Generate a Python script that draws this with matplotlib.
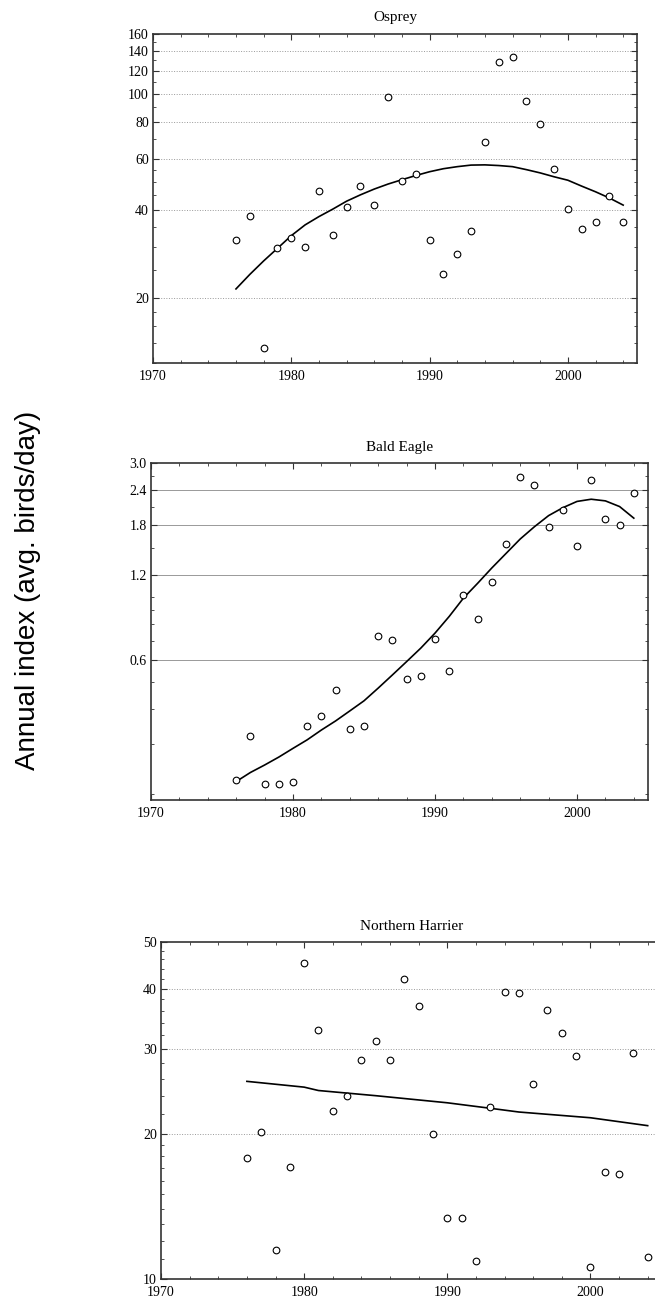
import numpy as np
import matplotlib
matplotlib.use("Agg")
import matplotlib.pyplot as plt
from matplotlib.ticker import FixedLocator, NullFormatter, MultipleLocator

# ---- data ----
years = list(range(1976, 2005))

osprey = [31.6, 38.2, 13.5, 29.7, 32.2, 29.8, 46.5, 32.9, 40.9, 48.5,
          41.6, 97.7, 50.4, 53.1, 31.6, 24.2, 28.3, 34.0, 68.5, 128.7,
          133.0, 94.6, 78.5, 55.1, 40.2, 34.4, 36.5, 44.7, 36.5]
osprey_fit = [21.5, 24.1, 26.8, 29.6, 32.7, 35.6, 38.0, 40.3, 42.9, 45.1,
              47.2, 49.1, 50.8, 52.5, 54.1, 55.4, 56.3, 57.0, 57.1, 56.8,
              56.3, 55.0, 53.6, 52.0, 50.6, 48.3, 46.2, 44.0, 41.6]

eagle = [0.224, 0.321, 0.216, 0.216, 0.220, 0.348, 0.377, 0.467, 0.339, 0.348,
         0.727, 0.707, 0.512, 0.525, 0.711, 0.545, 1.02, 0.833, 1.13, 1.55,
         2.68, 2.50, 1.77, 2.05, 1.52, 2.62, 1.89, 1.80, 2.35]
eagle_fit = [0.221, 0.238, 0.253, 0.270, 0.290, 0.311, 0.337, 0.363, 0.394, 0.428,
             0.475, 0.529, 0.590, 0.659, 0.745, 0.854, 0.992, 1.12, 1.27, 1.43,
             1.61, 1.78, 1.95, 2.08, 2.19, 2.23, 2.20, 2.10, 1.91]

harrier = [17.85, 20.2, 11.5, 17.1, 45.2, 32.9, 22.3, 24.0, 28.5, 31.2,
           28.5, 42.0, 36.9, 20.0, 13.4, 13.4, 10.9, 22.7, 39.4, 39.1,
           25.4, 36.2, 32.4, 29.0, 10.6, 16.7, 16.5, 29.4, 11.1]
harrier_fit_years = [1976, 1980, 1981, 1985, 1990, 1993, 1995, 2000, 2004]
harrier_fit = [25.7, 25.0, 24.6, 24.0, 23.2, 22.6, 22.2, 21.6, 20.8]

W, H = 655, 1301
fig = plt.figure(figsize=(W / 100, H / 100), dpi=100)

serif = "Liberation Serif"


def box(l, r, t, b):
    return [l / W, 1 - b / H, (r - l) / W, (b - t) / H]


def style(ax, title, ylim, major, minor, labels, grid_ls):
    ax.set_yscale("log")
    ax.set_xlim(1970, 2005)
    ax.set_ylim(*ylim)
    ax.xaxis.set_major_locator(FixedLocator([1970, 1980, 1990, 2000]))
    ax.xaxis.set_minor_locator(MultipleLocator(2))
    ax.yaxis.set_major_locator(FixedLocator(major))
    ax.yaxis.set_minor_locator(FixedLocator(minor))
    ax.yaxis.set_minor_formatter(NullFormatter())
    ax.set_yticklabels(labels)
    ax.set_xticklabels(["1970", "1980", "1990", "2000"])
    ax.tick_params(which="both", direction="in", top=True, right=True,
                   labelsize=10, color="#333333")
    ax.tick_params(axis="x", pad=5)
    ax.tick_params(axis="y", pad=3)
    ax.tick_params(which="major", length=4, width=0.8)
    ax.tick_params(which="minor", length=2.5, width=0.6)
    for lab in ax.get_xticklabels() + ax.get_yticklabels():
        lab.set_family(serif)
    for s in ax.spines.values():
        s.set_linewidth(1.2)
        s.set_color("#333333")
    for v in major[:-1]:
        if ylim[0] < v < ylim[1]:
            ax.axhline(v, color="#999999", lw=0.7, ls=grid_ls, zorder=0)
    ax.set_title(title, family=serif, fontsize=11, pad=9)


mk = dict(ls="none", marker="o", ms=4.8, mfc="white", mec="black", mew=0.8, zorder=3)

# Osprey
ax1 = fig.add_axes(box(153, 637, 34, 363))
ax1.plot(years, osprey_fit, color="black", lw=1.2, zorder=2)
ax1.plot(years, osprey, **mk)
style(ax1, "Osprey", (12, 160),
      [20, 40, 60, 80, 100, 120, 140, 160],
      [12, 14, 16, 18, 25, 30, 35, 45, 50, 55, 70, 90, 110, 130, 150],
      ["20", "40", "60", "80", "100", "120", "140", "160"], ":")

# Bald Eagle
ax2 = fig.add_axes(box(151, 648, 463, 800))
ax2.plot(years, eagle_fit, color="black", lw=1.2, zorder=2)
ax2.plot(years, eagle, **mk)
style(ax2, "Bald Eagle", (0.19, 3.0),
      [0.6, 1.2, 1.8, 2.4, 3.0],
      [0.2, 0.3, 0.4, 0.5, 0.7, 0.8, 0.9, 1.0, 1.5, 2.1, 2.7],
      ["0.6", "1.2", "1.8", "2.4", "3.0"], "-")

# Northern Harrier (panel runs past the right edge of the image)
ax3 = fig.add_axes(box(161, 662, 942, 1279))
ax3.plot(harrier_fit_years, harrier_fit, color="black", lw=1.2, zorder=2)
ax3.plot(years, harrier, **mk)
style(ax3, "Northern Harrier", (10, 50),
      [10, 20, 30, 40, 50],
      [11, 12, 13, 14, 15, 16, 17, 18, 19, 22, 24, 26, 28, 32, 34, 36, 38, 42, 44, 46, 48],
      ["10", "20", "30", "40", "50"], ":")

fig.text(28 / W, 1 - 590 / H, "Annual index (avg. birds/day)", rotation=90,
         ha="center", va="center", family="Liberation Sans", fontsize=20)

fig.savefig("out.png", dpi=100)
